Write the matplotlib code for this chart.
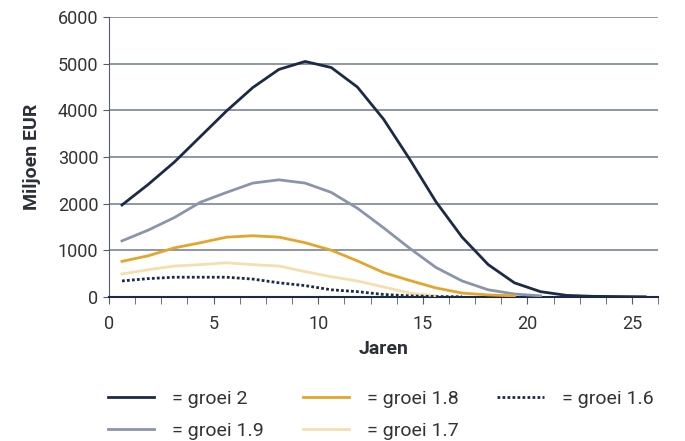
import matplotlib.pyplot as plt
import numpy as np

# values in miljoen EUR, one point every 1.25 years (centred in each step)
groei_2 = [1970, 2410, 2890, 3440, 3990, 4490, 4880, 5050, 4920, 4500,
           3810, 2950, 2040, 1280, 690, 300, 110, 30, 10, 5, 0]
groei_19 = [1200, 1430, 1700, 2030, 2240, 2440, 2510, 2440, 2240, 1900,
            1480, 1040, 630, 340, 150, 60, 20]
groei_18 = [760, 880, 1050, 1160, 1280, 1310, 1280, 1160, 1000, 770,
            520, 350, 190, 80, 40, 20]
groei_17 = [490, 580, 660, 690, 730, 690, 660, 540, 430, 340,
            210, 80, 20]
groei_16 = [340, 390, 420, 420, 420, 380, 300, 240, 150, 110,
            50, 20, 5, 0]

step = 1.25
yticks = [0, 1000, 2000, 3000, 4000, 5000, 6000]
xticks = [0, 5, 10, 15, 20, 25]

navy = '#1b2a45'
plt.rcParams['font.family'] = ['Roboto', 'DejaVu Sans']

fig = plt.figure(figsize=(6.85, 4.41), dpi=100)
ax = fig.add_axes([0.159, 0.327, 0.802, 0.634])


def xs(vals):
    return step / 2 + step * np.arange(len(vals))


series = [
    (groei_2, navy, '-', 2.0, '= groei 2'),
    (groei_19, '#8a95ab', '-', 2.0, '= groei 1.9'),
    (groei_18, '#e3a52c', '-', 2.0, '= groei 1.8'),
    (groei_17, '#f6dfae', '-', 2.0, '= groei 1.7'),
    (groei_16, navy, (0, (1, 0.8)), 2.0, '= groei 1.6'),
]
handles = []
for vals, col, ls, lw, lab in series:
    h, = ax.plot(xs(vals), vals, color=col, linestyle=ls, linewidth=lw, label=lab, zorder=3)
    handles.append(h)

ax.set_xlim(0, 26.25)
ax.set_ylim(0, 6000)
ax.set_yticks(yticks)
ax.set_xticks(xticks)
ax.set_xticks(np.arange(0, 26.3, step), minor=True)
ax.tick_params(axis='x', which='both', length=5, color='#555d6b', direction='out')
ax.tick_params(axis='x', which='major', pad=8, labelsize=13, labelcolor='#333333')
ax.tick_params(axis='y', length=4, color='#555d6b', labelsize=13, labelcolor='#333333')

ax.yaxis.grid(True, color='#6d7a8e', linewidth=1.1)
ax.set_axisbelow(True)
for s in ['top', 'right']:
    ax.spines[s].set_visible(False)
ax.spines['left'].set_color('#555d6b')
ax.spines['bottom'].set_color(navy)
ax.spines['bottom'].set_linewidth(1.5)

ax.set_ylabel('Miljoen EUR', fontsize=14, fontweight='bold', color='#2b2f38', labelpad=12)
ax.set_xlabel('Jaren', fontsize=14, fontweight='bold', color='#2b2f38', labelpad=5)

fig.legend(handles=handles, loc='lower left', bbox_to_anchor=(0.146, -0.015), ncol=3,
           frameon=False, fontsize=14, handlelength=2.4, handletextpad=0.9,
           columnspacing=2.0, labelcolor='#333333', labelspacing=0.7,
           borderaxespad=0)

fig.savefig('out.png', dpi=100)
